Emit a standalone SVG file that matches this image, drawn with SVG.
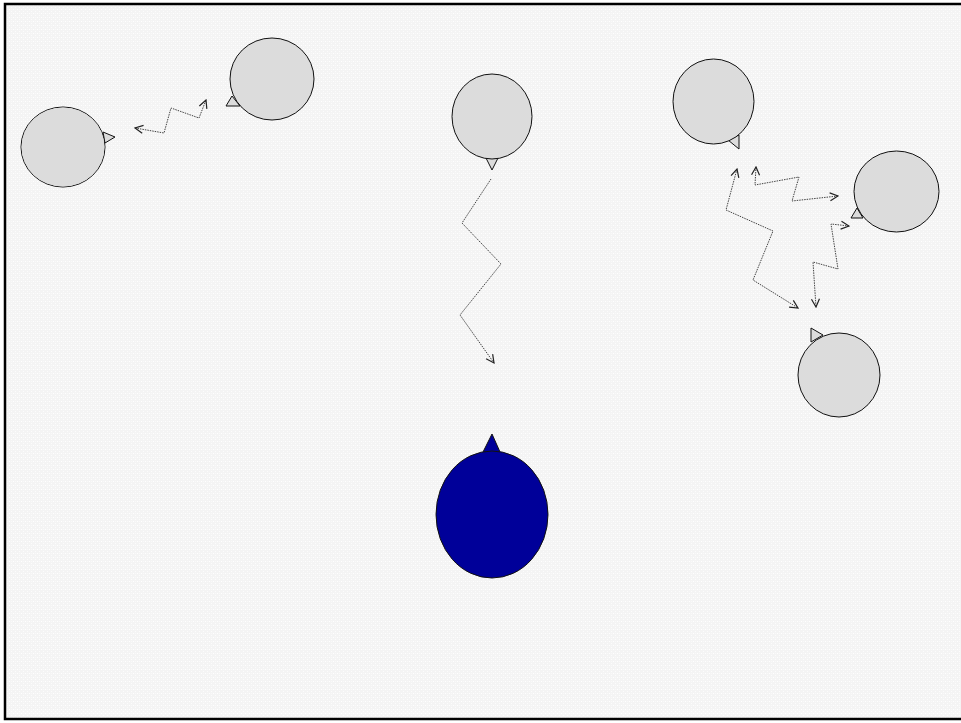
<svg xmlns="http://www.w3.org/2000/svg" width="961" height="723" viewBox="0 0 961 723">
<defs>
<pattern id="bg" width="4" height="4" patternUnits="userSpaceOnUse">
<rect width="4" height="4" fill="#f4f4f4"/>
<rect x="1" y="1" width="1" height="1" fill="#ffffff"/>
<rect x="3" y="3" width="1" height="1" fill="#fcfcfc"/>
<rect x="3" y="1" width="1" height="1" fill="#f9f9f9"/>
</pattern>
<marker id="ah" viewBox="0 0 10 10" refX="9" refY="5" markerWidth="10" markerHeight="10" markerUnits="userSpaceOnUse" orient="auto-start-reverse">
<path d="M1,1 L9,5 L1,9" fill="none" stroke="#222" stroke-width="1.2"/>
</marker>
<style>
.node{fill:#dcdcdc;stroke:#111;stroke-width:1}
.blue{fill:#000099;stroke:#111;stroke-width:1}
.conn{fill:none;stroke:#444;stroke-width:1;stroke-dasharray:1.5 1}
</style>
</defs>
<rect width="961" height="723" fill="#ffffff"/>
<rect x="5" y="4" width="1000" height="715" fill="url(#bg)" stroke="#000" stroke-width="2.5"/>
<g id="node1"><ellipse class="node" cx="63" cy="147" rx="42" ry="40"/><polygon class="node" points="103,132 115,137 105,143"/><ellipse cx="63" cy="147" rx="41.5" ry="39.5" fill="#dcdcdc"/></g>
<g id="node2"><polygon class="node" points="232,96 226,106 240,106"/><ellipse class="node" cx="272" cy="79" rx="42" ry="41"/></g>
<g id="node3"><polygon class="node" points="486,158 498,158 492,170"/><ellipse class="node" cx="492" cy="116.5" rx="40" ry="42.5"/></g>
<g id="node4"><polygon class="node" points="728,140 739,149 739,135"/><ellipse class="node" cx="713.5" cy="101.5" rx="40.5" ry="42.5"/></g>
<g id="node5"><polygon class="node" points="851,218 857,208 863,218"/><ellipse class="node" cx="896.5" cy="191.5" rx="42.5" ry="40.5"/></g>
<g id="node6"><polygon class="node" points="811,328 811,342 823,335"/><ellipse class="node" cx="839" cy="375" rx="41" ry="42"/></g>
<g id="node7"><polygon class="blue" points="483,452 492,434 500,452"/><ellipse class="blue" cx="492" cy="514.5" rx="56" ry="63.5"/></g>
<g id="connectors">
<polyline class="conn" points="135,128 164,133 171,108 199,118 206,100" marker-start="url(#ah)" marker-end="url(#ah)"/>
<polyline class="conn" points="491,179 462,223 501,264 460,315 494,363" marker-end="url(#ah)"/>
<polyline class="conn" points="737,169 726,210 773,231 753,280 798,308" marker-start="url(#ah)" marker-end="url(#ah)"/>
<polyline class="conn" points="756,167 755,185 799,177 792,201 838,196" marker-start="url(#ah)" marker-end="url(#ah)"/>
<polyline class="conn" points="849,226 831,224 838,269 813,262 816,307" marker-start="url(#ah)" marker-end="url(#ah)"/>
</g>
</svg>
